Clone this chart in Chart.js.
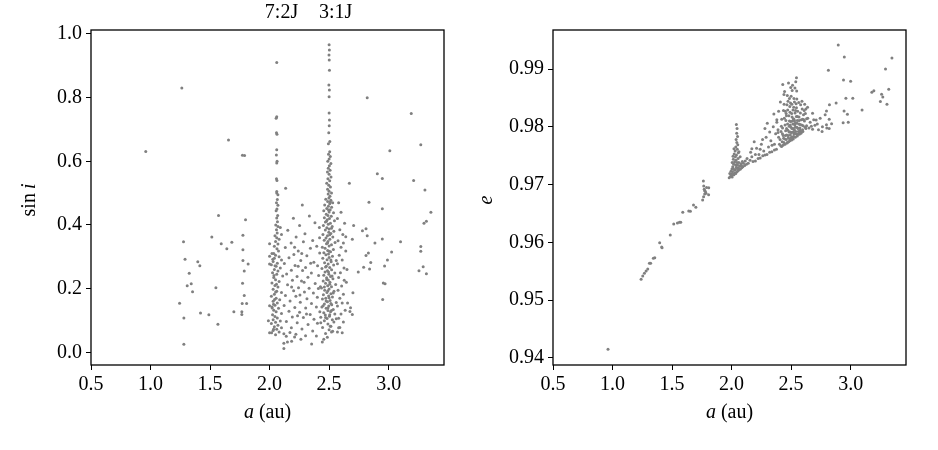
<!DOCTYPE html>
<html>
<head>
<meta charset="utf-8">
<script src="https://cdn.jsdelivr.net/npm/chart.js@4/dist/chart.umd.min.js"></script>
<style>
  html, body { margin: 0; padding: 0; background: #fff; }
  #wrap { position: relative; width: 938px; height: 450px; }
  canvas { position: absolute; top: 0; }
  #incChart { left: 0; }
  #eccChart { left: 469px; }
</style>
</head>
<body>
<div id="wrap">
  <canvas id="incChart" width="469" height="450"></canvas>
  <canvas id="eccChart" width="469" height="450"></canvas>
</div>
<script>
// tick labels
const aTicks = [0.5, 1.0, 1.5, 2.0, 2.5, 3.0];
const sinTicks = [0.0, 0.2, 0.4, 0.6, 0.8, 1.0];
const eTicks = [0.94, 0.95, 0.96, 0.97, 0.98, 0.99];

// resonance labels above the left panel: [text, a]
const resonanceLabels = [['7:2J', 2.10], ['3:1J', 2.555]];

// left panel: [a (au), sin i]
const incOuter = [
  [0.96,0.631],[1.263,0.83],[1.655,0.667],[1.772,0.619],[1.79,0.618],
  [1.571,0.430],[1.798,0.416],[1.776,0.368],[1.515,0.362],[1.277,0.347],[1.594,0.341],[1.683,0.346],
  [1.641,0.325],[1.776,0.322],[1.29,0.292],[1.776,0.288],[1.82,0.277],[1.397,0.284],[1.414,0.272],
  [1.787,0.255],[1.325,0.248],[1.342,0.215],[1.308,0.209],[1.353,0.19],[1.549,0.203],[1.773,0.217],
  [1.787,0.178],[1.77,0.153],[1.807,0.153],[1.244,0.154],[1.70,0.127],[1.767,0.127],[1.767,0.119],
  [1.42,0.123],[1.49,0.118],[1.28,0.108],[1.566,0.088],[1.28,0.025],
  [2.82,0.80],[3.19,0.75],[3.27,0.652],[3.01,0.633],[2.905,0.561],[2.947,0.546],[3.21,0.54],
  [3.305,0.51],[2.67,0.531],[2.835,0.471],[2.947,0.451],[3.355,0.44],[3.317,0.412],[3.297,0.405],
  [2.706,0.398],[2.78,0.382],[2.81,0.388],[2.82,0.366],[2.947,0.356],[3.10,0.347],[2.885,0.343],
  [2.64,0.363],[2.695,0.355],[2.62,0.343],[3.27,0.332],[3.27,0.317],[3.025,0.315],[2.83,0.312],
  [2.81,0.304],[2.99,0.29],[2.85,0.282],[2.966,0.271],[2.79,0.267],[2.84,0.262],[2.745,0.252],
  [3.255,0.256],[3.29,0.269],[3.317,0.247],[2.955,0.218],[2.97,0.215],[2.70,0.187],[2.95,0.166],
  [2.68,0.14],[2.675,0.128],[2.695,0.119],[2.627,0.226],[2.06,0.91],[2.135,0.515],[2.275,0.463]
];

const inc20 = [
  [2.06,0.74],[2.055,0.735],[2.058,0.69],[2.062,0.685],[2.06,0.636],[2.057,0.62],[2.063,0.60],
  [2.06,0.595],[2.058,0.545],[2.062,0.54],[2.06,0.505],
  [2.06,0.50],[2.07,0.495],[2.065,0.48],[2.058,0.47],[2.07,0.462],[2.062,0.45],[2.055,0.445],
  [2.068,0.43],[2.06,0.422],[2.066,0.41],[2.052,0.40],[2.07,0.395],[2.058,0.385],[2.064,0.375],
  [2.045,0.366],[2.06,0.36],[2.08,0.355],[2.05,0.348],[2.07,0.34],[2.04,0.333],[2.062,0.325],
  [2.09,0.392],[2.1,0.37],[2.035,0.31],[2.075,0.318],
  [2.02,0.31],[2.05,0.305],[2.08,0.30],[2.04,0.295],[2.1,0.29],[2.03,0.285],[2.065,0.28],
  [2.015,0.275],[2.055,0.27],[2.09,0.265],[2.04,0.26],[2.07,0.255],[2.025,0.25],[2.06,0.245],
  [2.11,0.24],[2.035,0.235],[2.05,0.228],[2.08,0.222],[2.02,0.218],[2.045,0.21],[2.07,0.205],
  [2.03,0.198],[2.06,0.192],[2.1,0.188],[2.04,0.182],[2.015,0.176],[2.055,0.17],[2.085,0.165],
  [2.03,0.16],[2.065,0.155],[2.045,0.148],[2.02,0.142],[2.075,0.138],[2.035,0.132],[2.055,0.127],
  [2.1,0.122],[2.025,0.118],[2.045,0.112],[2.065,0.108],[2.03,0.102],[2.09,0.098],[2.05,0.094],
  [2.015,0.09],[2.07,0.085],[2.04,0.08],[2.1,0.077],[2.06,0.072],[2.03,0.068],[2.08,0.064],
  [2.12,0.058],[2.05,0.055],[2.14,0.05],[2.022,0.139],[2.033,0.151],[2.042,0.166],[2.051,0.189],
  [2.058,0.214],[2.037,0.241],[2.046,0.272],[2.027,0.292],
  [2.0,0.341],[2.0,0.302],[2.0,0.277],[2.0,0.146],[1.99,0.099],[2.0,0.061],[2.017,0.061],
  [2.033,0.072],[2.12,0.028],[2.15,0.032],[2.185,0.035],[2.21,0.048],[2.12,0.012]
];

const incMid = [
  [2.2,0.421],[2.334,0.428],[2.381,0.407],[2.252,0.398],[2.153,0.383],[2.297,0.372],[2.418,0.392],
  [2.223,0.362],[2.362,0.351],[2.181,0.343],[2.284,0.347],[2.396,0.333],[2.132,0.329],[2.241,0.318],
  [2.343,0.327],[2.204,0.307],[2.313,0.303],[2.421,0.312],[2.163,0.297],[2.262,0.288],[2.372,0.283],
  [2.124,0.279],[2.214,0.273],[2.302,0.266],[2.403,0.272],[2.183,0.258],[2.277,0.257],[2.351,0.249],
  [2.143,0.246],[2.231,0.238],[2.322,0.236],[2.412,0.241],[2.192,0.226],[2.268,0.224],[2.383,0.216],
  [2.151,0.212],[2.243,0.203],[2.332,0.201],[2.427,0.206],[2.202,0.193],[2.293,0.189],[2.368,0.186],
  [2.133,0.178],[2.221,0.176],[2.314,0.168],[2.401,0.173],[2.172,0.161],[2.258,0.157],[2.352,0.153],
  [2.122,0.147],[2.212,0.141],[2.303,0.139],[2.393,0.142],[2.163,0.129],[2.252,0.126],[2.341,0.119],
  [2.422,0.127],[2.191,0.111],[2.284,0.109],[2.373,0.104],[2.141,0.097],[2.232,0.093],[2.323,0.087],
  [2.402,0.091],[2.183,0.077],[2.272,0.073],[2.362,0.067],[2.221,0.057],[2.302,0.052],[2.393,0.051],
  [2.353,0.026],[2.443,0.032],[2.263,0.041],[2.171,0.062],[2.24,0.27],[2.27,0.31],
  [2.21,0.33],[2.29,0.22],[2.255,0.18],[2.31,0.12],[2.235,0.115],[2.185,0.205],[2.345,0.28]
];

const inc25 = [
  [2.5,0.966],[2.502,0.95],[2.499,0.934],[2.501,0.918],[2.503,0.886],[2.498,0.84],[2.502,0.824],
  [2.5,0.803],[2.5,0.752],[2.503,0.73],[2.501,0.712],[2.497,0.69],[2.506,0.662],[2.494,0.655],
  [2.505,0.63],[2.495,0.622],[2.51,0.615],[2.5,0.607],[2.489,0.6],[2.515,0.593],[2.502,0.586],
  [2.493,0.578],[2.508,0.572],[2.486,0.566],[2.5,0.559],[2.516,0.551],[2.49,0.545],[2.505,0.539],
  [2.48,0.531],[2.497,0.525],[2.511,0.519],[2.487,0.512],[2.5,0.506],[2.52,0.5],[2.492,0.497],
  [2.507,0.49],
  [2.498,0.485],[2.472,0.481],[2.515,0.478],[2.488,0.474],[2.53,0.47],[2.505,0.467],[2.463,0.463],
  [2.494,0.459],[2.521,0.456],[2.48,0.452],[2.509,0.448],[2.455,0.445],[2.5,0.441],[2.537,0.438],
  [2.476,0.434],[2.49,0.43],[2.518,0.427],[2.46,0.423],[2.503,0.42],[2.484,0.416],[2.545,0.413],
  [2.469,0.409],[2.511,0.405],[2.493,0.402],[2.452,0.398],[2.526,0.395],[2.481,0.391],[2.5,0.387],
  [2.468,0.384],[2.54,0.38],[2.497,0.377],[2.515,0.373],[2.448,0.37],[2.486,0.366],[2.531,0.362],
  [2.474,0.359],[2.506,0.355],[2.459,0.352],[2.49,0.348],[2.55,0.345],[2.478,0.341],[2.52,0.338],
  [2.5,0.334],[2.443,0.33],[2.466,0.327],[2.536,0.323],[2.488,0.32],[2.512,0.316],[2.456,0.313],
  [2.495,0.309],[2.473,0.306],[2.528,0.302],[2.5,0.298],[2.447,0.295],[2.483,0.291],[2.56,0.288],
  [2.517,0.284],[2.462,0.281],[2.492,0.277],[2.538,0.274],[2.476,0.27],[2.505,0.266],[2.44,0.263],
  [2.521,0.259],[2.486,0.256],[2.466,0.252],[2.548,0.249],[2.498,0.245],[2.455,0.242],[2.512,0.238],
  [2.479,0.234],[2.532,0.231],[2.493,0.227],[2.45,0.224],[2.507,0.22],[2.47,0.217],[2.555,0.213],
  [2.488,0.209],[2.52,0.206],[2.436,0.202],[2.5,0.199],[2.463,0.195],[2.541,0.192],[2.482,0.188],
  [2.515,0.184],[2.452,0.181],[2.496,0.177],[2.528,0.174],[2.472,0.17],[2.444,0.167],[2.508,0.163],
  [2.486,0.159],[2.56,0.156],[2.46,0.152],[2.522,0.149],[2.497,0.145],[2.439,0.142],[2.475,0.138],
  [2.535,0.134],[2.49,0.131],[2.512,0.127],[2.455,0.124],[2.548,0.12],[2.468,0.117],[2.503,0.113],
  [2.43,0.11],[2.483,0.106],[2.527,0.102],[2.46,0.099],
  [2.51,0.472],[2.495,0.447],[2.478,0.412],[2.52,0.39],[2.505,0.369],[2.487,0.343],[2.5,0.317],
  [2.515,0.29],[2.47,0.268],[2.495,0.252],[2.525,0.24],[2.48,0.229],[2.505,0.214],[2.46,0.205],
  [2.49,0.193],[2.535,0.186],[2.5,0.171],[2.475,0.161],[2.515,0.153],[2.45,0.146],[2.49,0.139],
  [2.52,0.131],[2.505,0.118],[2.47,0.109],[2.54,0.095],[2.49,0.089],[2.515,0.082],[2.445,0.078],
  [2.5,0.071],[2.53,0.066],[2.47,0.059],[2.485,0.047],[2.455,0.041],[2.52,0.064],[2.57,0.064],
  [2.58,0.077],[2.51,0.082],[2.43,0.093],[2.56,0.105],[2.41,0.2],[2.42,0.36]
];

const incRight = [
  [2.58,0.47],[2.6,0.44],[2.57,0.42],[2.63,0.405],[2.59,0.385],[2.615,0.37],[2.575,0.35],
  [2.6,0.33],[2.64,0.318],[2.585,0.305],[2.61,0.29],[2.57,0.278],[2.625,0.265],[2.595,0.25],
  [2.58,0.235],[2.645,0.22],[2.605,0.208],[2.575,0.195],[2.62,0.182],[2.59,0.17],[2.61,0.155],
  [2.57,0.145],[2.635,0.132],[2.6,0.12],[2.58,0.107],[2.62,0.095],[2.59,0.078],[2.61,0.061],
  [2.655,0.155],[2.65,0.26]
];

// right panel: [a (au), e]
const eccTail = [
  [0.962,0.9415],[1.24,0.95362],[1.254,0.95419],[1.268,0.95465],[1.282,0.95505],[1.296,0.9554],
  [1.31,0.95638],[1.32,0.95638],[1.343,0.95725],[1.355,0.95735],[1.396,0.95995],[1.413,0.9592],
  [1.416,0.95908],[1.485,0.96128],[1.514,0.96318],[1.545,0.96336],[1.562,0.96348],[1.573,0.96348],
  [1.59,0.96521],[1.64,0.96543],[1.654,0.96538],[1.68,0.96647],[1.70,0.96607],[1.757,0.96734],
  [1.765,0.96791],[1.774,0.96837],[1.785,0.96849],[1.807,0.96825],[1.763,0.97062],[1.766,0.96976],
  [1.808,0.96946],[1.774,0.96894],[1.77,0.9692],[1.78,0.9688],[1.79,0.9695]
];

const ecc20 = [
  [2.04,0.9804],[2.046,0.9797],[2.043,0.9789],[2.05,0.9783],[2.038,0.9778],[2.044,0.9773],
  [2.052,0.9769],[2.035,0.9765],[2.048,0.9761],[2.03,0.9758],[2.057,0.9755],[2.041,0.9751],
  [1.98,0.9712],[1.99,0.9714],[2.0,0.9716],[2.005,0.9713],[2.012,0.9718],[2.02,0.9717],[2.028,0.972],
  [2.035,0.9719],[2.045,0.9722],[2.055,0.9724],[2.065,0.9726],[2.075,0.9727],[2.085,0.9729],
  [2.095,0.9731],[2.11,0.9733],[2.125,0.9735],[2.14,0.9737],
  [1.985,0.9719],[1.995,0.9723],[2.003,0.9727],[2.01,0.9731],[2.018,0.9735],[2.025,0.9739],
  [2.015,0.9744],[2.032,0.9748],[2.022,0.9753],[2.008,0.9722],[2.03,0.9726],[2.04,0.973],
  [2.05,0.9734],[2.06,0.9738],[2.037,0.9742],[2.055,0.9745],[2.068,0.9732],[2.078,0.9736],
  [2.09,0.974],[2.1,0.9737],[2.072,0.9748],[2.062,0.9757],[2.02,0.9762],[2.012,0.9728],
  [1.997,0.9718],[2.026,0.9725],[2.048,0.9728],[2.083,0.9733],[2.115,0.9741],[2.13,0.9745],
  [2.155,0.9742],[2.17,0.9748],[2.16,0.9756],[2.035,0.9734],[2.045,0.9738],[2.005,0.9738],
  [2.058,0.9729],[2.012,0.9749]
];

const eccBand = [
  [2.18,0.9740],[2.2,0.9741],[2.223,0.9745],[2.24,0.9746],[2.262,0.9750],[2.28,0.9751],[2.297,0.9752],
  [2.32,0.9756],[2.338,0.9757],[2.36,0.9760],[2.377,0.9761],
  [2.19,0.9774],[2.21,0.9763],[2.23,0.9752],[2.25,0.977],[2.27,0.9758],[2.28,0.9797],[2.3,0.9806],
  [2.29,0.9782],[2.31,0.9765],[2.33,0.9776],[2.35,0.98],[2.37,0.9788],[2.36,0.977],[2.39,0.9795],
  [2.32,0.9791],[2.24,0.9761],[2.26,0.9778],[2.34,0.9768],[2.2,0.9752],[2.17,0.9762],[2.38,0.9812],
  [2.355,0.9822],[2.395,0.9782]
];

const ecc25 = [
  [2.413,0.9767],[2.447,0.9779],[2.468,0.9773],[2.492,0.9791],[2.503,0.9782],[2.531,0.9803],
  [2.557,0.9787],[2.574,0.9798],[2.596,0.9795],[2.612,0.981],[2.428,0.9798],[2.439,0.9773],
  [2.456,0.9811],[2.477,0.9781],[2.484,0.9801],[2.511,0.978],[2.519,0.9814],[2.538,0.9792],
  [2.545,0.9833],[2.566,0.9805],[2.583,0.9789],[2.604,0.9821],[2.407,0.9778],[2.421,0.9813],
  [2.433,0.9785],[2.462,0.9797],[2.471,0.9829],[2.488,0.9779],[2.497,0.9809],[2.506,0.9839],
  [2.514,0.9791],[2.526,0.9787],[2.533,0.9824],[2.549,0.9799],[2.552,0.9811],[2.561,0.9792],
  [2.578,0.9824],[2.589,0.9803],[2.618,0.9799],[2.441,0.9839],[2.452,0.9785],[2.459,0.9778],
  [2.473,0.9794],[2.481,0.9819],[2.494,0.9786],[2.499,0.9799],[2.508,0.9817],[2.517,0.9797],
  [2.522,0.9834],[2.529,0.981],[2.541,0.9788],[2.544,0.9818],[2.568,0.9811],[2.593,0.9831],
  [2.601,0.9802],[2.425,0.9774],[2.436,0.9828],[2.449,0.9803],[2.465,0.9838],[2.475,0.9785],
  [2.486,0.9849],[2.491,0.9825],[2.502,0.979],[2.509,0.9863],[2.515,0.9805],[2.524,0.9849],
  [2.536,0.9799],[2.547,0.9862],[2.555,0.9827],[2.571,0.9791],[2.586,0.9812],[2.415,0.9792],
  [2.445,0.9861],[2.468,0.9854],[2.478,0.9876],[2.495,0.9841],[2.512,0.9872],[2.528,0.9843],
  [2.539,0.9878],[2.548,0.9848],[2.545,0.9885],[2.43,0.9873],[2.44,0.9856],[2.458,0.9823],
  [2.463,0.9786],[2.486,0.981],[2.505,0.9823],[2.521,0.979],[2.534,0.9806],[2.558,0.9797],
  [2.564,0.9842],[2.58,0.9838],[2.607,0.9812],[2.624,0.9797],[2.39,0.979],[2.38,0.9808],
  [2.395,0.9827],[2.41,0.9843],[2.402,0.977],[2.418,0.9801],[2.427,0.9788],[2.443,0.9815],
  [2.454,0.9793],[2.47,0.9805],[2.483,0.9791],[2.489,0.9835],[2.5,0.9853],[2.507,0.9797],
  [2.516,0.9829],[2.527,0.9795],[2.537,0.9828],[2.553,0.9818],[2.575,0.9804],[2.597,0.9813],
  [2.61,0.9828],[2.63,0.9814],[2.474,0.9844],[2.497,0.9868],[2.532,0.9867],[2.461,0.9819],
  [2.524,0.9813],[2.549,0.9806],[2.437,0.978],[2.451,0.9827],[2.493,0.9803],[2.511,0.981],
  [2.519,0.9783],[2.542,0.984],[2.566,0.9817],[2.576,0.9794],[2.591,0.9844],[2.614,0.9839],
  [2.638,0.9834],[2.42,0.9766],[2.432,0.9768],[2.449,0.977],[2.466,0.9772],[2.479,0.9774],
  [2.49,0.9776],[2.504,0.9777],[2.518,0.9779],[2.535,0.9782],[2.552,0.9784],[2.569,0.9787],
  [2.585,0.9791],[2.599,0.9792]
];

const eccOuter = [
  [2.624,0.98308],[2.68,0.98234],[2.71,0.98118],[2.744,0.98147],[2.68,0.97958],[2.70,0.98027],
  [2.63,0.9802],[2.65,0.9798],[2.66,0.9808],[2.64,0.9815],[2.67,0.9801],[2.72,0.9805],[2.69,0.9812],
  [2.62,0.9823],[2.76,0.9792],[2.73,0.9795],[2.8,0.9798],
  [2.896,0.99415],[2.947,0.99208],[3.347,0.9919],[3.293,0.99],[2.813,0.98977],[2.94,0.9881],
  [3.0,0.9879],[3.32,0.98649],[3.195,0.98625],[3.178,0.98597],[3.26,0.98562],[3.27,0.98516],
  [2.96,0.98493],[3.018,0.98493],[3.25,0.98436],[3.305,0.98389],[3.096,0.98291],[2.878,0.98412],
  [2.822,0.98382],[2.945,0.98273],[2.973,0.98216],[2.937,0.98071],[2.98,0.98078],[2.797,0.98273],
  [2.786,0.98209],[2.82,0.9813],[2.84,0.98054],[2.797,0.98036],[2.763,0.98],[2.82,0.9797]
];

const SERIF = '"Liberation Serif", "Times New Roman", serif';
const FONT_PX = 20;

function toPoints(...groups) {
    return groups.flat().map(p => ({ x: p[0], y: p[1] }));
}

// draw a run of text pieces, some italic, centred on (x, y)
function drawMixed(ctx, parts, x, y) {
    const fontFor = p => (p.italic ? 'italic ' : '') + FONT_PX + 'px ' + SERIF;
    let total = 0;
    parts.forEach(p => { ctx.font = fontFor(p); total += ctx.measureText(p.t).width; });
    let cx = x - total / 2;
    parts.forEach(p => {
        ctx.font = fontFor(p);
        ctx.fillText(p.t, cx, y);
        cx += ctx.measureText(p.t).width;
    });
}

const framePlugin = {
    id: 'frame',
    afterDraw(chart, args, opts) {
        const { ctx, chartArea: c } = chart;
        ctx.save();
        ctx.strokeStyle = '#000';
        ctx.lineWidth = 1.3;
        ctx.strokeRect(c.left, c.top, c.right - c.left, c.bottom - c.top);

        ctx.fillStyle = '#000';
        ctx.textBaseline = 'middle';
        ctx.textAlign = 'left';
        const midX = (c.left + c.right) / 2;
        drawMixed(ctx, [{ t: 'a', italic: true }, { t: ' (au)' }], midX, 413);

        ctx.save();
        ctx.translate(opts.yLabelX, 200);
        ctx.rotate(-Math.PI / 2);
        drawMixed(ctx, opts.yLabel, 0, 0);
        ctx.restore();

        if (opts.topLabels) {
            ctx.textAlign = 'center';
            ctx.font = FONT_PX + 'px ' + SERIF;
            const xs = chart.scales.x;
            opts.topLabels.forEach(([txt, a]) => {
                ctx.fillText(txt, xs.getPixelForValue(a), 13);
            });
        }
        ctx.restore();
    }
};

function makeChart(canvasId, points, yMin, yMax, yTicks, yDigits, yWidth, padRight, pluginOpts) {
    const tickFont = { family: SERIF, size: FONT_PX };
    return new Chart(document.getElementById(canvasId), {
        type: 'scatter',
        data: {
            datasets: [{
                data: points,
                backgroundColor: '#808080',
                borderWidth: 0,
                pointRadius: 1.5,
                pointHoverRadius: 1.5
            }]
        },
        options: {
            responsive: false,
            animation: false,
            events: [],
            layout: { padding: { left: 0, top: 30, right: padRight, bottom: 0 } },
            plugins: {
                legend: { display: false },
                tooltip: { enabled: false },
                frame: pluginOpts
            },
            scales: {
                x: {
                    type: 'linear',
                    min: 0.5,
                    max: 3.465,
                    afterBuildTicks: s => { s.ticks = aTicks.map(v => ({ value: v })); },
                    afterFit: s => { s.height = 85; },
                    ticks: {
                        font: tickFont,
                        color: '#000',
                        padding: 3,
                        maxRotation: 0,
                        callback: v => v.toFixed(1)
                    },
                    grid: { drawOnChartArea: false, drawTicks: true, tickLength: 5, color: '#000', lineWidth: 1 },
                    border: { display: false }
                },
                y: {
                    type: 'linear',
                    min: yMin,
                    max: yMax,
                    afterBuildTicks: s => { s.ticks = yTicks.map(v => ({ value: v })); },
                    afterFit: s => { s.width = yWidth; },
                    ticks: {
                        font: tickFont,
                        color: '#000',
                        padding: 4,
                        callback: v => v.toFixed(yDigits)
                    },
                    grid: { drawOnChartArea: false, drawTicks: true, tickLength: 5, color: '#000', lineWidth: 1 },
                    border: { display: false }
                }
            }
        },
        plugins: [framePlugin]
    });
}

makeChart('incChart', toPoints(incOuter, inc20, incMid, inc25, incRight),
    -0.04, 1.0125, sinTicks, 1, 91, 25,
    { yLabelX: 30, yLabel: [{ t: 'sin\u2009' }, { t: 'i', italic: true }], topLabels: resonanceLabels });

makeChart('eccChart', toPoints(eccTail, ecc20, eccBand, ecc25, eccOuter),
    0.93878, 0.99675, eTicks, 2, 84, 32,
    { yLabelX: 18, yLabel: [{ t: 'e', italic: true }] });
</script>
</body>
</html>
